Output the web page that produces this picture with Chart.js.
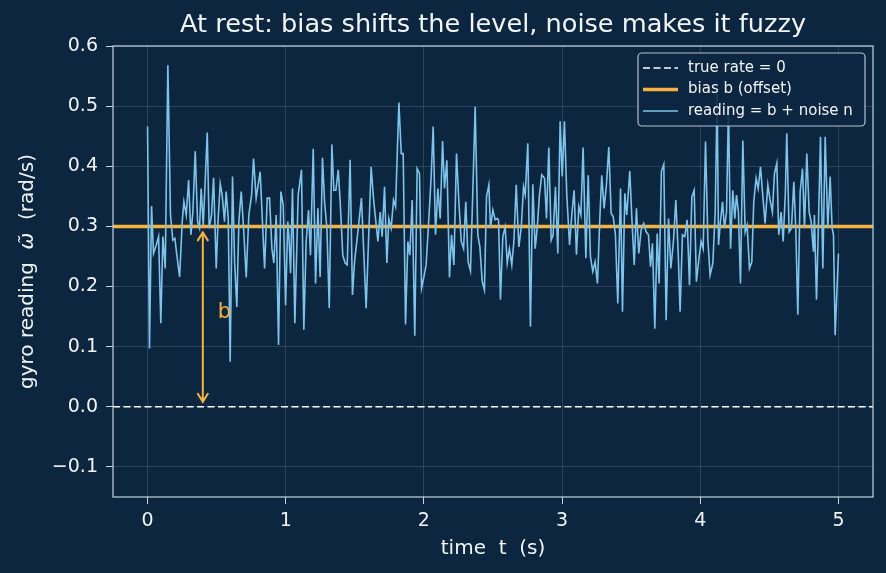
<!DOCTYPE html>
<html>
<head>
<meta charset="utf-8">
<script src="https://cdn.jsdelivr.net/npm/chart.js@4.4.1/dist/chart.umd.min.js"></script>
<style>
  html, body { margin: 0; padding: 0; background: #0c2640; }
  canvas { display: block; }
</style>
</head>
<body>
<canvas id="gyro" width="886" height="573"></canvas>
<script>
// ---- data ----
const titleText = "At rest: bias shifts the level, noise makes it fuzzy";
const biasLevel = 0.3;
const trueRate = 0;
const arrowT = 0.4;            // where the "b" arrow sits (s)
const bLabel = { t: 0.5, w: 0.15 };
const xRange = [-0.25, 5.25];
const yRange = [-0.15, 0.6];
const xTicks = [0, 1, 2, 3, 4, 5];
const yTicks = [-0.1, 0, 0.1, 0.2, 0.3, 0.4, 0.5, 0.6];

// reading = b + noise, vertices of the trace (t in s, value in rad/s)
const readingT = [
  0, 0.014, 0.029, 0.043, 0.063, 0.080, 0.096, 0.111, 0.128, 0.147,
  0.166, 0.183, 0.198, 0.212, 0.232, 0.251, 0.263, 0.280, 0.297, 0.314,
  0.328, 0.345, 0.362, 0.376, 0.388, 0.403, 0.417, 0.432, 0.446, 0.463,
  0.478, 0.497, 0.511, 0.526, 0.540, 0.557, 0.569, 0.584, 0.598, 0.615,
  0.630, 0.646, 0.661, 0.678, 0.695, 0.714, 0.733, 0.753, 0.767, 0.786,
  0.815, 0.847, 0.866, 0.883, 0.900, 0.914, 0.931, 0.948, 0.965, 0.982,
  0.999, 1.015, 1.025, 1.035, 1.049, 1.066, 1.090, 1.114, 1.131, 1.148,
  1.165, 1.179, 1.199, 1.216, 1.233, 1.249, 1.266, 1.281, 1.298, 1.315,
  1.334, 1.348, 1.363, 1.380, 1.394, 1.413, 1.430, 1.445, 1.466, 1.483,
  1.498, 1.522, 1.548, 1.582, 1.618,
  1.635, 1.650, 1.667, 1.684, 1.698, 1.715, 1.732, 1.746, 1.763, 1.780,
  1.795, 1.819, 1.836, 1.850, 1.867, 1.884, 1.898, 1.915, 1.934, 1.951,
  1.968, 1.983, 2.000, 2.016, 2.033, 2.053, 2.067, 2.084, 2.101, 2.118,
  2.135, 2.149, 2.166, 2.185, 2.200, 2.217, 2.236, 2.253, 2.270, 2.287,
  2.303, 2.320, 2.337, 2.354, 2.371, 2.390, 2.405, 2.422, 2.438, 2.453, 2.470,
  2.482, 2.499, 2.516, 2.530, 2.540, 2.554, 2.571, 2.588, 2.603, 2.619,
  2.636, 2.651, 2.668, 2.687, 2.704, 2.721, 2.733, 2.752, 2.771, 2.788,
  2.805, 2.820, 2.836, 2.853, 2.873, 2.887, 2.904, 2.921, 2.935, 2.952,
  2.969, 2.986, 3.001, 3.017, 3.034, 3.054, 3.070, 3.087, 3.104, 3.121,
  3.136, 3.152, 3.172, 3.189, 3.205, 3.222, 3.239, 3.256, 3.273, 3.287,
  3.304, 3.321, 3.338, 3.355, 3.370, 3.386, 3.403, 3.423, 3.437, 3.454,
  3.468, 3.490, 3.505, 3.522, 3.538, 3.555, 3.572, 3.591, 3.608, 3.625,
  3.640, 3.654, 3.671, 3.688, 3.702, 3.719, 3.736, 3.753, 3.770, 3.787,
  3.806, 3.823, 3.840, 3.854, 3.871, 3.888, 3.905, 3.922, 3.939, 3.956,
  3.972, 3.989, 4.006, 4.021, 4.038, 4.055, 4.071, 4.091, 4.108, 4.122,
  4.132, 4.146, 4.161, 4.175, 4.190, 4.204, 4.219, 4.235, 4.250, 4.262,
  4.276, 4.291, 4.308, 4.325, 4.339, 4.356, 4.373, 4.387, 4.404, 4.419,
  4.436, 4.452, 4.469, 4.489, 4.505, 4.522, 4.537, 4.554, 4.568, 4.585,
  4.600, 4.616, 4.626, 4.643, 4.660, 4.677, 4.691, 4.706, 4.723, 4.740,
  4.754, 4.771, 4.788, 4.802, 4.819, 4.826, 4.841, 4.855, 4.870, 4.887,
  4.904, 4.923, 4.940, 4.954, 4.964, 4.976, 5.000
];
const readingW = [
  0.466, 0.097, 0.334, 0.255, 0.269, 0.283, 0.139, 0.283, 0.230, 0.568,
  0.319, 0.277, 0.280, 0.252, 0.216, 0.308, 0.341, 0.319, 0.377, 0.286,
  0.324, 0.425, 0.308, 0.297, 0.363, 0.302, 0.374, 0.456, 0.297, 0.319,
  0.381, 0.230, 0.313, 0.371, 0.352, 0.308, 0.358, 0.313, 0.075, 0.383,
  0.241, 0.166, 0.308, 0.358, 0.297, 0.215, 0.319, 0.352, 0.413, 0.347,
  0.391, 0.230, 0.347, 0.347, 0.263, 0.239, 0.319, 0.103, 0.358, 0.335,
  0.169, 0.308, 0.275, 0.222, 0.363, 0.139, 0.352, 0.394, 0.128, 0.275,
  0.327, 0.252, 0.429, 0.205, 0.330, 0.216, 0.414, 0.341, 0.297, 0.164,
  0.436, 0.360, 0.360, 0.394, 0.341, 0.252, 0.239, 0.236, 0.411, 0.186,
  0.241, 0.291, 0.347, 0.164, 0.399,
  0.347, 0.313, 0.275, 0.324, 0.283, 0.366, 0.239, 0.313, 0.297, 0.344,
  0.333, 0.506, 0.421, 0.421, 0.137, 0.275, 0.252, 0.344, 0.118, 0.396,
  0.388, 0.197, 0.216, 0.236, 0.302, 0.385, 0.466, 0.286, 0.363, 0.313,
  0.442, 0.363, 0.410, 0.215, 0.286, 0.236, 0.421, 0.341, 0.275, 0.263,
  0.341, 0.241, 0.226, 0.358, 0.499, 0.286, 0.266, 0.208, 0.194, 0.349, 0.369,
  0.297, 0.327, 0.311, 0.313, 0.311, 0.178, 0.283, 0.299, 0.239, 0.263,
  0.236, 0.275, 0.369, 0.266, 0.297, 0.366, 0.353, 0.438, 0.133, 0.370,
  0.263, 0.297, 0.352, 0.386, 0.380, 0.313, 0.431, 0.277, 0.286, 0.366,
  0.255, 0.475, 0.383, 0.475, 0.352, 0.269, 0.319, 0.360, 0.253, 0.333,
  0.319, 0.431, 0.247, 0.385, 0.250, 0.225, 0.241, 0.205, 0.313, 0.385,
  0.330, 0.369, 0.432, 0.322, 0.316, 0.286, 0.172, 0.363, 0.158, 0.355,
  0.319, 0.392, 0.313, 0.236, 0.330, 0.255, 0.294, 0.305, 0.291, 0.286,
  0.233, 0.272, 0.130, 0.288, 0.205, 0.392, 0.403, 0.144, 0.313, 0.230,
  0.275, 0.344, 0.258, 0.158, 0.286, 0.283, 0.311, 0.202, 0.349, 0.360,
  0.208, 0.244, 0.275, 0.263, 0.441, 0.277, 0.219, 0.239, 0.324, 0.520,
  0.269, 0.308, 0.341, 0.297, 0.324, 0.500, 0.263, 0.360, 0.313, 0.352,
  0.324, 0.205, 0.443, 0.291, 0.302, 0.230, 0.241, 0.341, 0.380, 0.363,
  0.399, 0.352, 0.305, 0.369, 0.344, 0.324, 0.388, 0.405, 0.286, 0.324,
  0.275, 0.358, 0.455, 0.291, 0.297, 0.374, 0.297, 0.153, 0.358, 0.396,
  0.297, 0.421, 0.324, 0.308, 0.258, 0.319, 0.178, 0.302, 0.449, 0.230,
  0.449, 0.297, 0.383, 0.297, 0.286, 0.119, 0.255
];

// ---- styling ----
const BG = "#0c2640";
const FG = "#f2f5f8";
const SPINE = "#c6d4e1";
const GRID = "rgba(190,210,230,0.17)";
const BLUE = "#7ec3ea";
const ORANGE = "#f5b342";
const FONT = "'DejaVu Sans', sans-serif";

function tickLabelY(v) {
  if (Math.abs(v) < 1e-9) return "0.0";
  return v.toFixed(1).replace("-", "\u2212");
}

/* 背景・枠・タイトル・軸ラベル・矢印・凡例 */
const decorPlugin = {
  id: "decor",
  beforeDraw(chart) {
    const ctx = chart.ctx;
    ctx.save();
    ctx.fillStyle = BG;
    ctx.fillRect(0, 0, chart.width, chart.height);
    ctx.restore();
  },
  afterDraw(chart) {
    const ctx = chart.ctx;
    const a = chart.chartArea;
    const xs = chart.scales.x;
    const ys = chart.scales.y;
    const cx = (a.left + a.right) / 2;
    const cy = (a.top + a.bottom) / 2;

    ctx.save();

    // b arrow (double headed, open heads)
    const ax = xs.getPixelForValue(arrowT);
    const yTop = ys.getPixelForValue(biasLevel) + 6;
    const yBot = ys.getPixelForValue(trueRate) - 5;
    ctx.strokeStyle = ORANGE;
    ctx.lineWidth = 2;
    ctx.lineCap = "round";
    ctx.beginPath();
    ctx.moveTo(ax, yTop);
    ctx.lineTo(ax, yBot);
    ctx.moveTo(ax - 5, yTop + 8);
    ctx.lineTo(ax, yTop);
    ctx.lineTo(ax + 5, yTop + 8);
    ctx.moveTo(ax - 5, yBot - 8);
    ctx.lineTo(ax, yBot);
    ctx.lineTo(ax + 5, yBot - 8);
    ctx.stroke();

    ctx.fillStyle = ORANGE;
    ctx.font = "21px " + FONT;
    ctx.textAlign = "left";
    ctx.textBaseline = "alphabetic";
    ctx.fillText("b", xs.getPixelForValue(bLabel.t) + 1, ys.getPixelForValue(bLabel.w) + 1);

    // frame
    ctx.strokeStyle = SPINE;
    ctx.lineWidth = 1.2;
    ctx.lineCap = "butt";
    ctx.strokeRect(a.left, a.top, a.right - a.left, a.bottom - a.top);

    // title
    ctx.fillStyle = FG;
    ctx.font = "25.6px " + FONT;
    ctx.textAlign = "center";
    ctx.fillText(titleText, cx, 32);

    // x label
    ctx.font = "20px " + FONT;
    ctx.textBaseline = "middle";
    ctx.fillText("time  t  (s)", cx, 549);

    // y label (rotated, italic omega with tilde)
    const parts = [
      { s: "gyro reading  ", f: "20px " + FONT },
      { s: "\u03C9\u0303", f: "italic 20px " + FONT },
      { s: "  (rad/s)", f: "20px " + FONT }
    ];
    let total = 0;
    parts.forEach(p => { ctx.font = p.f; p.w = ctx.measureText(p.s).width; total += p.w; });
    ctx.translate(33, cy);
    ctx.rotate(-Math.PI / 2);
    ctx.textAlign = "left";
    ctx.textBaseline = "alphabetic";
    let px = -total / 2;
    parts.forEach(p => { ctx.font = p.f; ctx.fillText(p.s, px, 0); px += p.w; });
    ctx.setTransform(1, 0, 0, 1, 0, 0);

    // legend
    const lx = 638, ly = 53, lw = 227, lh = 73;
    ctx.beginPath();
    ctx.roundRect(lx, ly, lw, lh, 4);
    ctx.fillStyle = "rgba(12,38,64,0.88)";
    ctx.fill();
    ctx.strokeStyle = "rgba(198,212,225,0.9)";
    ctx.lineWidth = 1.2;
    ctx.stroke();

    const items = chart.data.datasets.slice().reverse();
    ctx.font = "15px " + FONT;
    ctx.textBaseline = "middle";
    items.forEach((ds, i) => {
      const ry = 68 + i * 21.5;
      ctx.strokeStyle = ds.borderColor;
      ctx.lineWidth = ds.borderWidth;
      ctx.setLineDash(ds.borderDash || []);
      ctx.beginPath();
      ctx.moveTo(643, ry);
      ctx.lineTo(678, ry);
      ctx.stroke();
      ctx.setLineDash([]);
      ctx.fillStyle = FG;
      ctx.fillText(ds.label, 688, ry);
    });

    ctx.restore();
  }
};

const readingPoints = readingT.map((t, i) => ({ x: t, y: readingW[i] }));

new Chart(document.getElementById("gyro"), {
  type: "line",
  data: {
    datasets: [
      {
        label: "reading = b + noise n",
        data: readingPoints,
        borderColor: BLUE,
        borderWidth: 1.6,
        pointRadius: 0,
        tension: 0,
        order: 0
      },
      {
        label: "bias b (offset)",
        data: [{ x: xRange[0], y: biasLevel }, { x: xRange[1], y: biasLevel }],
        borderColor: ORANGE,
        borderWidth: 3.5,
        pointRadius: 0,
        order: 1
      },
      {
        label: "true rate = 0",
        data: [{ x: xRange[0], y: trueRate }, { x: xRange[1], y: trueRate }],
        borderColor: "#ffffff",
        borderWidth: 1.6,
        borderDash: [7, 3.5],
        pointRadius: 0,
        order: 2
      }
    ]
  },
  options: {
    responsive: false,
    animation: false,
    devicePixelRatio: 1,
    layout: { padding: { top: 46, right: 13, left: 0, bottom: 0 } },
    plugins: {
      legend: { display: false },
      tooltip: { enabled: false },
      title: { display: false }
    },
    scales: {
      x: {
        type: "linear",
        min: xRange[0],
        max: xRange[1],
        afterBuildTicks: s => { s.ticks = xTicks.map(v => ({ value: v })); },
        afterFit: s => { s.height = 76; },
        ticks: {
          color: FG,
          font: { family: "DejaVu Sans", size: 19 },
          padding: 6,
          maxRotation: 0,
          callback: v => String(v)
        },
        grid: { color: GRID, tickColor: SPINE, tickLength: 7, lineWidth: 1 },
        border: { display: false }
      },
      y: {
        type: "linear",
        min: yRange[0],
        max: yRange[1],
        afterBuildTicks: s => { s.ticks = yTicks.map(v => ({ value: v })); },
        afterFit: s => { s.width = 113; },
        ticks: {
          color: FG,
          font: { family: "DejaVu Sans", size: 19 },
          padding: 8,
          callback: v => tickLabelY(v)
        },
        grid: { color: GRID, tickColor: SPINE, tickLength: 7, lineWidth: 1 },
        border: { display: false }
      }
    }
  },
  plugins: [decorPlugin]
});
</script>
</body>
</html>
